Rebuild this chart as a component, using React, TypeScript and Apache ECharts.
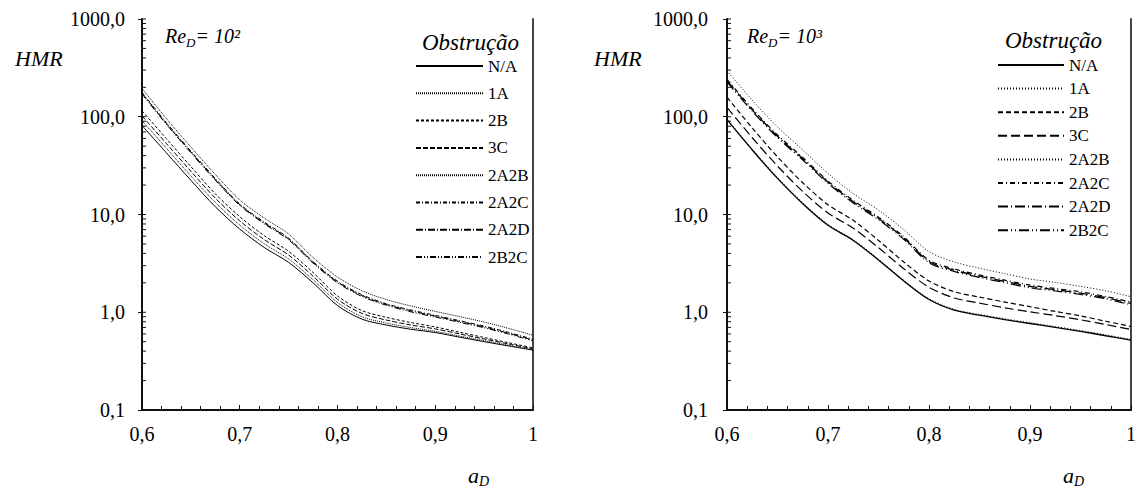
import React, { useEffect, useRef } from 'react';
import * as echarts from 'echarts';

const xValues = [0.6, 0.625, 0.65, 0.675, 0.7, 0.725, 0.75, 0.775, 0.8, 0.825, 0.85, 0.875, 0.9, 0.925, 0.95, 0.975, 1.0];

const obstructions = ['N/A', '1A', '2B', '3C', '2A2B', '2A2C', '2A2D', '2B2C'];

// Re_D = 10^2
const re100NA = [81.3, 42.7, 22.4, 12.0, 7.1, 4.6, 3.24, 2.0, 1.17, 0.85, 0.74, 0.67, 0.62, 0.556, 0.5, 0.452, 0.41];
const re1001A = [91.2, 47.6, 24.8, 13.3, 7.8, 5.02, 3.51, 2.15, 1.26, 0.9, 0.776, 0.697, 0.638, 0.571, 0.513, 0.46, 0.412];
const re1002B = [115, 59.6, 30.9, 16.3, 9.5, 6.08, 4.2, 2.55, 1.47, 1.04, 0.887, 0.785, 0.708, 0.624, 0.552, 0.488, 0.432];
const re1003C = [102, 53.2, 27.7, 14.7, 8.6, 5.54, 3.85, 2.34, 1.36, 0.973, 0.832, 0.741, 0.676, 0.6, 0.533, 0.474, 0.422];
const re1002A2B = [195, 95.5, 49.0, 25.7, 14.1, 9.2, 6.31, 3.63, 2.29, 1.66, 1.35, 1.16, 1.02, 0.902, 0.794, 0.684, 0.582];
const re1002A2C = [178, 86.8, 44.6, 23.4, 12.8, 8.38, 5.73, 3.3, 2.08, 1.51, 1.22, 1.055, 0.93, 0.82, 0.722, 0.622, 0.53];
const re1002A2D = [174, 85.1, 43.7, 22.9, 12.6, 8.2, 5.62, 3.24, 2.04, 1.48, 1.2, 1.035, 0.912, 0.804, 0.708, 0.61, 0.519];
const re1002B2C = [171, 83.4, 42.8, 22.4, 12.4, 8.04, 5.5, 3.18, 2.0, 1.45, 1.18, 1.01, 0.894, 0.788, 0.694, 0.598, 0.509];

// Re_D = 10^3
const re1000NA = [93.3, 45.7, 23.4, 12.9, 7.76, 5.43, 3.43, 2.09, 1.35, 1.05, 0.933, 0.841, 0.767, 0.7, 0.638, 0.575, 0.518];
const re10001A = [95.2, 46.6, 23.9, 13.2, 7.92, 5.54, 3.5, 2.13, 1.38, 1.07, 0.952, 0.858, 0.782, 0.714, 0.651, 0.587, 0.528];
const re10002B = [158.5, 76.7, 38.9, 21.1, 12.6, 8.71, 5.43, 3.27, 2.09, 1.62, 1.43, 1.27, 1.14, 1.02, 0.918, 0.809, 0.715];
const re10003C = [124.5, 61.0, 31.3, 17.2, 10.35, 7.24, 4.57, 2.79, 1.8, 1.4, 1.24, 1.11, 1.01, 0.923, 0.838, 0.75, 0.665];
const re10002A2B = [295, 148, 78.5, 45.7, 26.3, 16.4, 11.1, 7.0, 4.17, 3.27, 2.82, 2.48, 2.19, 2.02, 1.84, 1.66, 1.44];
const re10002A2C = [241, 121, 65, 38.3, 22.0, 13.9, 9.4, 5.92, 3.41, 2.77, 2.41, 2.13, 1.9, 1.75, 1.62, 1.45, 1.27];
const re10002A2D = [234, 117.5, 63.1, 37.2, 21.4, 13.5, 9.12, 5.75, 3.31, 2.69, 2.34, 2.07, 1.84, 1.7, 1.57, 1.41, 1.23];
const re10002B2C = [227, 114, 61.2, 36.1, 20.8, 13.1, 8.85, 5.58, 3.21, 2.61, 2.27, 2.01, 1.78, 1.65, 1.52, 1.37, 1.19];

const yMinorTicks = [
  0.1, 0.2, 0.3, 0.4, 0.5, 0.6, 0.7, 0.8, 0.9,
  1, 2, 3, 4, 5, 6, 7, 8, 9,
  10, 20, 30, 40, 50, 60, 70, 80, 90,
  100, 200, 300, 400, 500, 600, 700, 800, 900, 1000,
];

const FONT = 'Liberation Serif';

const leftSeriesValues = [re100NA, re1001A, re1002B, re1003C, re1002A2B, re1002A2C, re1002A2D, re1002B2C];
const rightSeriesValues = [re1000NA, re10001A, re10002B, re10003C, re10002A2B, re10002A2C, re10002A2D, re10002B2C];

const leftLineStyles: any[] = [
  { type: 'solid', width: 1 },
  { type: [1, 1], width: 1 },
  { type: [3, 2], width: 1 },
  { type: [5, 2], width: 1 },
  { type: [1, 1], width: 1 },
  { type: [4, 2, 1, 2], width: 1 },
  { type: [7, 2, 1, 2], width: 1 },
  { type: [6, 2, 1, 2, 1, 2], width: 1 },
];
const rightLineStyles: any[] = [
  { type: 'solid', width: 1.3 },
  { type: [1, 2], width: 1 },
  { type: [5, 3], width: 1.2 },
  { type: [9, 4], width: 1.2 },
  { type: [1, 2], width: 1 },
  { type: [5, 3, 1, 3], width: 1.2 },
  { type: [10, 3, 1, 3], width: 1.3 },
  { type: [10, 3, 1, 3, 1, 3], width: 1.2 },
];

function buildXAxis(gridIndex: number) {
  return {
    type: 'value',
    gridIndex,
    min: 0.6,
    max: 1,
    interval: 0.1,
    axisLine: { show: true, onZero: false, lineStyle: { color: '#111', width: 2 } },
    axisTick: { show: true, inside: true, length: 5, lineStyle: { color: '#111' } },
    minorTick: { show: true, splitNumber: 5, length: 4, lineStyle: { color: '#111' } },
    splitLine: { show: false },
    axisLabel: {
      margin: 14,
      fontFamily: FONT,
      fontSize: 20,
      color: '#000',
      formatter: (v: number) => (Math.abs(v - 1) < 1e-9 ? '1' : v.toFixed(1).replace('.', ',')),
    },
  };
}

function buildYAxis(gridIndex: number, margin: number) {
  return {
    type: 'log',
    logBase: 10,
    gridIndex,
    min: 0.1,
    max: 1000,
    axisLine: { show: true, onZero: false, lineStyle: { color: '#111', width: 2 } },
    axisTick: { show: true, inside: false, length: 4, lineStyle: { color: '#111' } },
    splitLine: { show: false },
    axisLabel: {
      margin,
      fontFamily: FONT,
      fontSize: 20,
      color: '#000',
      formatter: (v: number) => v.toFixed(1).replace('.', ','),
    },
  };
}

function borderAxis(gridIndex: number) {
  return {
    type: 'value',
    gridIndex,
    position: 'right',
    axisLine: { show: true, lineStyle: { color: '#444', width: 2 } },
    axisTick: { show: false },
    axisLabel: { show: false },
    splitLine: { show: false },
  };
}

function makeLineSeries(prefix: string, values: number[][], styles: any[], axisIdx: number, order: number[]) {
  return order.map((i) => ({
    type: 'line',
    name: obstructions[i] + prefix,
    xAxisIndex: axisIdx,
    yAxisIndex: axisIdx * 2,
    data: xValues.map((x, k) => [x, values[i][k]]),
    symbol: 'none',
    showSymbol: false,
    smooth: 0.3,
    lineStyle: { color: '#000', ...styles[i] },
    itemStyle: { color: '#000' },
    z: 3,
  }));
}

function tickSeries(axisIdx: number) {
  return {
    type: 'custom',
    xAxisIndex: axisIdx,
    yAxisIndex: axisIdx * 2,
    data: yMinorTicks.map((v) => [0.6, v]),
    encode: { x: 0, y: 1 },
    silent: true,
    clip: false,
    renderItem: (params: any, api: any) => {
      const p = api.coord([api.value(0), api.value(1)]);
      return {
        type: 'line',
        shape: { x1: p[0], y1: p[1], x2: p[0] + 4, y2: p[1] },
        style: { stroke: '#111', lineWidth: 1 },
      };
    },
  };
}

const italic = (size: number, lh: number) => ({
  fontFamily: FONT,
  fontStyle: 'italic',
  fontWeight: 'normal',
  fontSize: size,
  lineHeight: lh,
  color: '#000',
  verticalAlign: 'middle',
});
const sub = (size: number) => ({
  fontFamily: FONT,
  fontStyle: 'italic',
  fontWeight: 'normal',
  fontSize: size,
  lineHeight: size + 1,
  color: '#000',
  verticalAlign: 'bottom',
});

function richTitle(text: string, left: number, top: number, size = 20) {
  return {
    text,
    left,
    top,
    padding: 0,
    textStyle: {
      fontWeight: 'normal',
      fontFamily: FONT,
      rich: {
        i: italic(size, 26),
        s: sub(13),
      },
    },
  };
}

function legendFor(suffix: string, left: number, top: number, itemWidth: number, gap: number) {
  return {
    orient: 'vertical',
    left,
    top,
    padding: 0,
    itemWidth,
    itemHeight: 12,
    itemGap: gap,
    selectedMode: false,
    itemStyle: { opacity: 0 },
    data: obstructions.map((n) => n + suffix),
    formatter: (name: string) => name.replace(suffix, ''),
    textStyle: { fontFamily: FONT, fontSize: 17, lineHeight: 18, color: '#000' },
  };
}

export default function App() {
  const ref = useRef<HTMLDivElement>(null);
  useEffect(() => {
    if (!ref.current) return;
    const chart = echarts.init(ref.current, undefined, { renderer: 'svg' });
    const option: any = {
      animation: false,
      backgroundColor: '#fff',
      grid: [
        { left: 142, top: 19, width: 391, height: 391 },
        { left: 727, top: 19, width: 405, height: 391 },
      ],
      xAxis: [buildXAxis(0), buildXAxis(1)],
      yAxis: [buildYAxis(0, 17), borderAxis(0), buildYAxis(1, 19), borderAxis(1)],
      title: [
        richTitle('{i|Re}{s|D}{i|= 10²}', 165, 23),
        richTitle('{i|Re}{s|D}{i|= 10³}', 747, 23),
        richTitle('{i|HMR}', 15, 45, 22),
        richTitle('{i|HMR}', 594, 45, 22),
        richTitle('{i|Obstrução}', 422, 29, 23),
        richTitle('{i|Obstrução}', 1005, 27, 23),
        {
          text: '{a|a}{s|D}',
          left: 468,
          top: 462,
          padding: 0,
          textStyle: { fontWeight: 'normal', rich: { a: italic(22, 26), s: sub(14) } },
        },
        {
          text: '{a|a}{s|D}',
          left: 1063,
          top: 462,
          padding: 0,
          textStyle: { fontWeight: 'normal', rich: { a: italic(22, 26), s: sub(14) } },
        },
      ],
      legend: [
        legendFor('|L', 415, 57, 67, 9.3),
        legendFor('|R', 997, 56, 66, 5.6),
      ],
      series: [
        ...makeLineSeries('|L', leftSeriesValues, leftLineStyles, 0, [1, 3, 2, 0, 5, 6, 7, 4]),
        ...makeLineSeries('|R', rightSeriesValues, rightLineStyles, 1, [1, 0, 3, 2, 5, 6, 7, 4]),
        tickSeries(0),
        tickSeries(1),
      ],
    };
    chart.setOption(option);
    return () => chart.dispose();
  }, []);
  return <div ref={ref} style={{ position: 'fixed', left: 0, top: 0, width: 1139, height: 489 }} />;
}
